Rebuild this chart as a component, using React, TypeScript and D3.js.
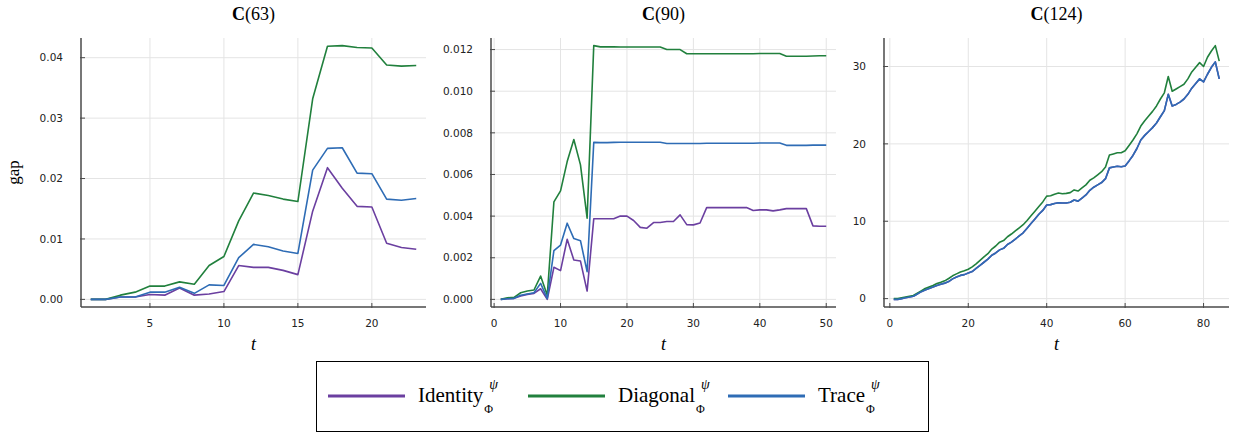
import React, { useRef, useEffect } from 'react';
import * as d3 from 'd3';

// Panel C(63)
const t63 = d3.range(1, 24);
const identity63 = [0, 0, 0.0004, 0.0004, 0.0008, 0.0007, 0.0019, 0.0007, 0.0009, 0.0013, 0.0056, 0.0053, 0.0053, 0.0048, 0.0041, 0.0146, 0.0218, 0.0184, 0.0154, 0.0153, 0.0093, 0.0086, 0.0083];
const diagonal63 = [0, 0, 0.0007, 0.0012, 0.0022, 0.0022, 0.0029, 0.0025, 0.0056, 0.0071, 0.013, 0.0176, 0.0172, 0.0166, 0.0162, 0.0332, 0.0419, 0.042, 0.0417, 0.0416, 0.0388, 0.0386, 0.0387];
const trace63 = [0, 0, 0.0004, 0.0004, 0.0012, 0.0012, 0.002, 0.001, 0.0024, 0.0023, 0.0069, 0.0091, 0.0087, 0.008, 0.0076, 0.0214, 0.025, 0.0251, 0.0209, 0.0208, 0.0166, 0.0164, 0.0167];

// Panel C(90)
const t90 = d3.range(1, 51);
const identity90 = [0, 0.00003, 0.00005, 0.00016, 0.00024, 0.00029, 0.00051, 0, 0.00154, 0.00138,
  0.00289, 0.00189, 0.00184, 0.0004, 0.00387, 0.00387, 0.00387, 0.00387, 0.004, 0.004,
  0.00379, 0.00346, 0.00342, 0.00369, 0.00369, 0.00374, 0.00374, 0.00406, 0.00359, 0.00358,
  0.00367, 0.00441, 0.00441, 0.00441, 0.00441, 0.00441, 0.00441, 0.00441, 0.00427, 0.0043,
  0.0043, 0.00425, 0.0043, 0.00436, 0.00436, 0.00436, 0.00436, 0.00353, 0.00351, 0.00351];
const diagonal90 = [0, 0.00008, 0.0001, 0.00032, 0.0004, 0.00045, 0.00112, 0.0002, 0.00468, 0.00521,
  0.00662, 0.00768, 0.00646, 0.0039, 0.01219, 0.01213, 0.01213, 0.01213, 0.01212, 0.01212,
  0.01212, 0.01212, 0.01212, 0.01212, 0.01212, 0.012, 0.012, 0.012, 0.0118, 0.0118,
  0.0118, 0.0118, 0.0118, 0.0118, 0.0118, 0.0118, 0.0118, 0.0118, 0.0118, 0.01181,
  0.01181, 0.01181, 0.01181, 0.01168, 0.01168, 0.01168, 0.01168, 0.01169, 0.0117, 0.0117];
const trace90 = [0, 0.00003, 0.00005, 0.0002, 0.00026, 0.00032, 0.00077, 0.00005, 0.00234, 0.00261,
  0.00366, 0.00292, 0.00282, 0.00133, 0.00754, 0.00753, 0.00753, 0.00754, 0.00755, 0.00755,
  0.00755, 0.00755, 0.00755, 0.00755, 0.00755, 0.00749, 0.00749, 0.00749, 0.00749, 0.00749,
  0.00749, 0.0075, 0.0075, 0.0075, 0.0075, 0.0075, 0.0075, 0.0075, 0.0075, 0.00751,
  0.00751, 0.00751, 0.00751, 0.0074, 0.0074, 0.0074, 0.0074, 0.00741, 0.00741, 0.00741];

// Panel C(124)
const t124 = d3.range(1, 85);
const trace124 = [-0.1, -0.1, 0.0, 0.1, 0.2, 0.3, 0.6, 0.9, 1.1, 1.3,
  1.5, 1.7, 1.85, 2.0, 2.2, 2.55, 2.8, 3.0, 3.1, 3.3,
  3.5, 3.9, 4.3, 4.7, 5.1, 5.6, 5.9, 6.3, 6.5, 7.0,
  7.3, 7.7, 8.1, 8.5, 9.1, 9.7, 10.3, 10.9, 11.4, 12.1,
  12.15, 12.3, 12.4, 12.35, 12.35, 12.45, 12.75, 12.6, 13.0, 13.4,
  14.0, 14.4, 14.7, 15.0, 15.5, 16.9, 17.0, 17.1, 17.05, 17.15,
  17.8, 18.5, 19.4, 20.5, 21.1, 21.6, 22.1, 22.7, 23.5, 24.3,
  26.4, 24.9, 25.1, 25.4, 25.8, 26.4, 27.2, 27.8, 28.4, 28.0,
  29.0, 29.9, 30.6, 28.4];
const identity124 = [-0.1, -0.1, 0.0, 0.1, 0.2, 0.3, 0.6, 0.9, 1.1, 1.3,
  1.5, 1.7, 1.85, 2.0, 2.2, 2.55, 2.8, 3.0, 3.1, 3.3,
  3.5, 3.9, 4.3, 4.7, 5.1, 5.6, 5.9, 6.3, 6.5, 7.0,
  7.3, 7.7, 8.1, 8.5, 9.1, 9.7, 10.3, 10.9, 11.4, 12.1,
  12.15, 12.3, 12.4, 12.35, 12.35, 12.45, 12.75, 12.6, 13.0, 13.4,
  14.0, 14.4, 14.7, 15.0, 15.5, 16.9, 17.0, 17.1, 17.05, 17.15,
  17.8, 18.5, 19.4, 20.5, 21.1, 21.6, 22.1, 22.7, 23.5, 24.3,
  26.4, 24.9, 25.1, 25.4, 25.8, 26.4, 27.2, 27.8, 28.4, 28.0,
  29.0, 29.9, 30.6, 28.4];
const diagonal124 = [0.0, 0.0, 0.1, 0.2, 0.3, 0.4, 0.7, 1.0, 1.3, 1.5,
  1.7, 1.95, 2.1, 2.3, 2.6, 2.95, 3.2, 3.45, 3.6, 3.8,
  4.1, 4.5, 4.95, 5.4, 5.8, 6.4, 6.8, 7.3, 7.5, 8.0,
  8.35, 8.75, 9.15, 9.55, 10.1, 10.7, 11.3, 11.9, 12.5, 13.25,
  13.3, 13.5, 13.65, 13.55, 13.6, 13.7, 14.05, 13.9, 14.3, 14.7,
  15.3, 15.6, 16.0, 16.4, 17.0, 18.55, 18.7, 18.85, 18.85, 19.1,
  19.8, 20.5, 21.3, 22.3, 23.0, 23.6, 24.2, 24.9, 25.8, 26.6,
  28.7, 26.8, 27.1, 27.4, 27.7, 28.4, 29.3, 29.9, 30.5, 30.0,
  31.2, 32.0, 32.7, 30.7];

const titles = ['63', '90', '124'];
const seriesNames = ['Identity', 'Diagonal', 'Trace'];
const colors = ['#6b3fa0', '#21803d', '#2e6cb5'];
const xTicks = [[5, 10, 15, 20], [0, 10, 20, 30, 40, 50], [0, 20, 40, 60, 80]];
const yTicks = [[0, 0.01, 0.02, 0.03, 0.04], [0, 0.002, 0.004, 0.006, 0.008, 0.010, 0.012], [0, 10, 20, 30]];
const yFormats = ['.2f', '.3f', 'd'];

const W = 1246;
const H = 434;
const plotTop = 38;
const plotBottom = 307;
const plotLefts = [81, 491, 884];
const plotWidth = 345;

const sansFont = '"DejaVu Sans", sans-serif';
const serifFont = '"Liberation Serif", "DejaVu Serif", serif';

const App = () => {
  const svgRef = useRef<SVGSVGElement>(null);

  useEffect(() => {
    const svg = d3.select(svgRef.current);
    svg.selectAll('*').remove();

    const panels = [
      { t: t63, series: [identity63, diagonal63, trace63] },
      { t: t90, series: [identity90, diagonal90, trace90] },
      { t: t124, series: [identity124, diagonal124, trace124] },
    ];

    panels.forEach((p, pi) => {
      const left = plotLefts[pi];
      const right = left + plotWidth;

      // Julia-style limits: data extent widened by 3% each side
      const [tMin, tMax] = d3.extent(p.t) as [number, number];
      const tPad = (tMax - tMin) * 0.03;
      const all = p.series.flat();
      const [vMin, vMax] = d3.extent(all) as [number, number];
      const vPad = (vMax - vMin) * 0.03;

      const x = d3.scaleLinear().domain([tMin - tPad, tMax + tPad]).range([left, right]);
      const y = d3.scaleLinear().domain([vMin - vPad, vMax + vPad]).range([plotBottom, plotTop]);

      const g = svg.append('g');

      // grid
      g.selectAll('.gx').data(xTicks[pi]).enter().append('line')
        .attr('x1', d => x(d)).attr('x2', d => x(d))
        .attr('y1', plotTop).attr('y2', plotBottom)
        .attr('stroke', '#e4e4e4').attr('stroke-width', 1);
      g.selectAll('.gy').data(yTicks[pi]).enter().append('line')
        .attr('x1', left).attr('x2', right)
        .attr('y1', d => y(d)).attr('y2', d => y(d))
        .attr('stroke', '#e4e4e4').attr('stroke-width', 1);

      // series lines
      const line = d3.line<number>()
        .x((_, i) => x(p.t[i]))
        .y(d => y(d));
      p.series.forEach((s, si) => {
        g.append('path')
          .datum(s)
          .attr('d', line)
          .attr('fill', 'none')
          .attr('stroke', colors[si])
          .attr('stroke-width', 1.6)
          .attr('stroke-linejoin', 'round');
      });

      // axes
      g.append('line')
        .attr('x1', left).attr('x2', left)
        .attr('y1', plotTop).attr('y2', plotBottom)
        .attr('stroke', '#4a4a4a').attr('stroke-width', 1.5);
      g.append('line')
        .attr('x1', left).attr('x2', right)
        .attr('y1', plotBottom).attr('y2', plotBottom)
        .attr('stroke', '#4a4a4a').attr('stroke-width', 1.5);

      // ticks
      g.selectAll('.ty').data(yTicks[pi]).enter().append('line')
        .attr('x1', left - 1).attr('x2', left + 4)
        .attr('y1', d => y(d)).attr('y2', d => y(d))
        .attr('stroke', '#4a4a4a').attr('stroke-width', 1);
      g.selectAll('.tx').data(xTicks[pi]).enter().append('line')
        .attr('x1', d => x(d)).attr('x2', d => x(d))
        .attr('y1', plotBottom + 1).attr('y2', plotBottom - 4)
        .attr('stroke', '#4a4a4a').attr('stroke-width', 1);

      // tick labels
      const fmt = d3.format(yFormats[pi]);
      g.selectAll('.ly').data(yTicks[pi]).enter().append('text')
        .attr('x', left - 18)
        .attr('y', d => y(d))
        .attr('dy', '0.35em')
        .attr('text-anchor', 'end')
        .attr('font-family', sansFont)
        .attr('font-size', 10.5)
        .attr('fill', '#222')
        .text(d => fmt(d));
      g.selectAll('.lx').data(xTicks[pi]).enter().append('text')
        .attr('x', d => x(d))
        .attr('y', plotBottom + 16)
        .attr('dy', '0.35em')
        .attr('text-anchor', 'middle')
        .attr('font-family', sansFont)
        .attr('font-size', 10.5)
        .attr('fill', '#222')
        .text(d => String(d));

      // title
      const title = g.append('text')
        .attr('x', (left + right) / 2)
        .attr('y', 20)
        .attr('text-anchor', 'middle')
        .attr('font-family', serifFont)
        .attr('font-size', 18)
        .attr('fill', '#000');
      title.append('tspan').attr('font-weight', 'bold').text('C');
      title.append('tspan').text(`(${titles[pi]})`);

      // x label
      g.append('text')
        .attr('x', (left + right) / 2)
        .attr('y', 350)
        .attr('text-anchor', 'middle')
        .attr('font-family', serifFont)
        .attr('font-style', 'italic')
        .attr('font-size', 18)
        .attr('fill', '#000')
        .text('t');
    });

    // y label
    svg.append('text')
      .attr('transform', `translate(19, ${(plotTop + plotBottom) / 2}) rotate(-90)`)
      .attr('text-anchor', 'middle')
      .attr('font-family', serifFont)
      .attr('font-size', 17)
      .attr('fill', '#000')
      .text('gap');

    // legend
    const lg = svg.append('g');
    lg.append('rect')
      .attr('x', 316.5).attr('y', 361.5)
      .attr('width', 612).attr('height', 70)
      .attr('fill', '#fff')
      .attr('stroke', '#000')
      .attr('stroke-width', 1);

    const legendX = d3.scalePoint<string>().domain(seriesNames).range([328, 728]);
    seriesNames.forEach((name, i) => {
      const x0 = legendX(name) as number;
      lg.append('line')
        .attr('x1', x0).attr('x2', x0 + 77)
        .attr('y1', 396).attr('y2', 396)
        .attr('stroke', colors[i])
        .attr('stroke-width', 3);
      const label = lg.append('text')
        .attr('x', x0 + 90)
        .attr('y', 402)
        .attr('font-family', serifFont)
        .attr('font-size', 21)
        .attr('fill', '#000')
        .text(name);
      const w = (label.node() as SVGTextElement).getComputedTextLength();
      lg.append('text')
        .attr('x', x0 + 90 + w + 6)
        .attr('y', 389)
        .attr('font-family', serifFont)
        .attr('font-style', 'italic')
        .attr('font-size', 14)
        .attr('fill', '#000')
        .text('ψ');
      lg.append('text')
        .attr('x', x0 + 90 + w + 1)
        .attr('y', 413)
        .attr('font-family', serifFont)
        .attr('font-size', 12)
        .attr('fill', '#000')
        .text('Φ');
    });
  }, []);

  return (
    <div style={{ position: 'absolute', left: 0, top: 0, width: W, height: H, background: '#fff' }}>
      <svg ref={svgRef} width={W} height={H} />
    </div>
  );
};

export default App;
